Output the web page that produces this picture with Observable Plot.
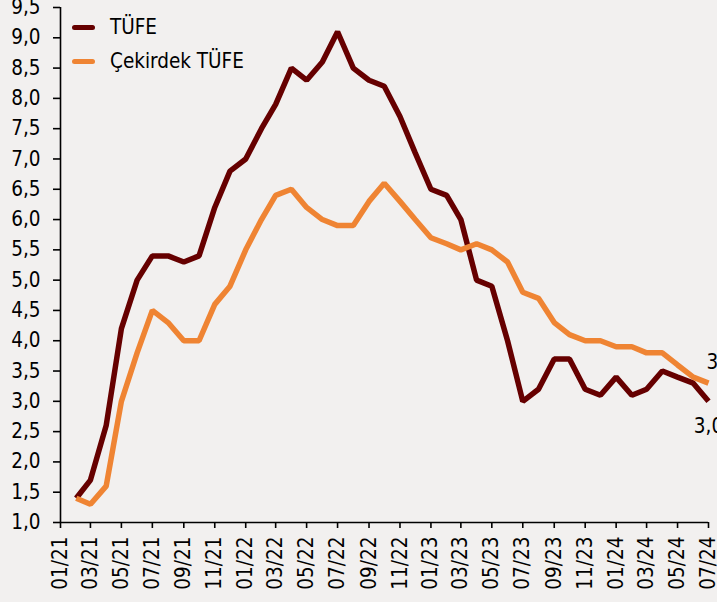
<!DOCTYPE html>
<html><head><meta charset="utf-8">
<script src="https://cdn.jsdelivr.net/npm/d3@7"></script>
<script src="https://cdn.jsdelivr.net/npm/@observablehq/plot@0.6"></script>
<style>
html,body{margin:0;padding:0;background:#f2f0ef;}
#wrap{position:relative;width:717px;height:602px;overflow:hidden;}
.legend{position:absolute;left:0;top:0;font-family:"DejaVu Sans Condensed","DejaVu Sans",sans-serif;font-size:20.5px;color:#000;}
.item{position:absolute;left:72px;height:24px;line-height:24px;display:flex;align-items:center;white-space:nowrap;}
.sw{width:23px;height:5px;border-radius:3px;margin-right:15px;}
</style></head><body><div id="wrap"></div>
<script>
const months = ["02/21","03/21","04/21","05/21","06/21","07/21","08/21","09/21","10/21","11/21","12/21",
  "01/22","02/22","03/22","04/22","05/22","06/22","07/22","08/22","09/22","10/22","11/22","12/22",
  "01/23","02/23","03/23","04/23","05/23","06/23","07/23","08/23","09/23","10/23","11/23","12/23",
  "01/24","02/24","03/24","04/24","05/24","06/24","07/24"];
const tufe = [1.4,1.7,2.6,4.2,5.0,5.4,5.4,5.3,5.4,6.2,6.8,7.0,7.5,7.9,8.5,8.3,8.6,9.1,8.5,8.3,8.2,7.7,7.1,6.5,6.4,6.0,5.0,4.9,4.0,3.0,3.2,3.7,3.7,3.2,3.1,3.4,3.1,3.2,3.5,3.4,3.3,3.0];
const cekirdek = [1.4,1.3,1.6,3.0,3.8,4.5,4.3,4.0,4.0,4.6,4.9,5.5,6.0,6.4,6.5,6.2,6.0,5.9,5.9,6.3,6.6,6.3,6.0,5.7,5.6,5.5,5.6,5.5,5.3,4.8,4.7,4.3,4.1,4.0,4.0,3.9,3.9,3.8,3.8,3.6,3.4,3.3];
const seriesNames = ["TÜFE","Çekirdek TÜFE"];
const seriesColors = ["#660000","#ef8433"];
const xTickLabels = ["01/21","03/21","05/21","07/21","09/21","11/21","01/22","03/22","05/22","07/22","09/22","11/22",
  "01/23","03/23","05/23","07/23","09/23","11/23","01/24","03/24","05/24","07/24"];
const yTicks = [1.0,1.5,2.0,2.5,3.0,3.5,4.0,4.5,5.0,5.5,6.0,6.5,7.0,7.5,8.0,8.5,9.0,9.5];

const parse = d3.utcParse("%m/%y");
const fmt = d => d.toFixed(1).replace(".", ",");
const rows = [];
months.forEach((m, i) => {
  rows.push({date: parse(m), value: tufe[i], series: seriesNames[0]});
  rows.push({date: parse(m), value: cekirdek[i], series: seriesNames[1]});
});
const lastT = [{date: parse(months.at(-1)), value: tufe.at(-1)}];
const lastC = [{date: parse(months.at(-1)), value: cekirdek.at(-1)}];
const font = '"DejaVu Sans Condensed","DejaVu Sans",sans-serif';

const chart = Plot.plot({
  width: 717, height: 602,
  marginLeft: 60, marginRight: 9, marginTop: 7, marginBottom: 80,
  style: {background: "transparent", fontFamily: font, fontSize: "20.5px", color: "#000", overflow: "hidden"},
  x: {type: "utc", domain: [parse(xTickLabels[0]), parse(xTickLabels.at(-1))]},
  y: {domain: [1, 9.5]},
  color: {domain: seriesNames, range: seriesColors},
  marks: [
    Plot.axisY({ticks: yTicks, tickFormat: fmt, tickSize: 7, tickPadding: 13, label: null, strokeWidth: 1.6}),
    Plot.axisX({ticks: xTickLabels.map(parse), tickFormat: d3.utcFormat("%m/%y"), tickRotate: -90, tickSize: 6, tickPadding: 8, label: null, strokeWidth: 1.6}),
    Plot.ruleX([parse(xTickLabels[0])], {stroke: "#000", strokeWidth: 1.6}),
    Plot.ruleY([1], {stroke: "#000", strokeWidth: 1.6}),
    Plot.line(rows, {x: "date", y: "value", z: "series", stroke: "series", strokeWidth: 5.5, strokeLinejoin: "miter", strokeLinecap: "butt"}),
    Plot.text(lastT, {x: "date", y: "value", text: d => fmt(d.value), dy: 25, textAnchor: "middle", fill: "#000"}),
    Plot.text(lastC, {x: "date", y: "value", text: d => fmt(d.value), dy: -21, dx: -2, textAnchor: "start", fill: "#000"})
  ]
});
const wrap = document.getElementById("wrap");
wrap.appendChild(chart);
const legend = document.createElement("div");
legend.className = "legend";
seriesNames.forEach((n, i) => {
  const it = document.createElement("div");
  it.className = "item";
  it.style.top = (i === 0 ? 15 : 49) + "px";
  const sw = document.createElement("span");
  sw.className = "sw";
  sw.style.background = seriesColors[i];
  const tx = document.createElement("span");
  tx.textContent = n;
  it.appendChild(sw); it.appendChild(tx);
  legend.appendChild(it);
});
wrap.appendChild(legend);
</script>
</body></html>
